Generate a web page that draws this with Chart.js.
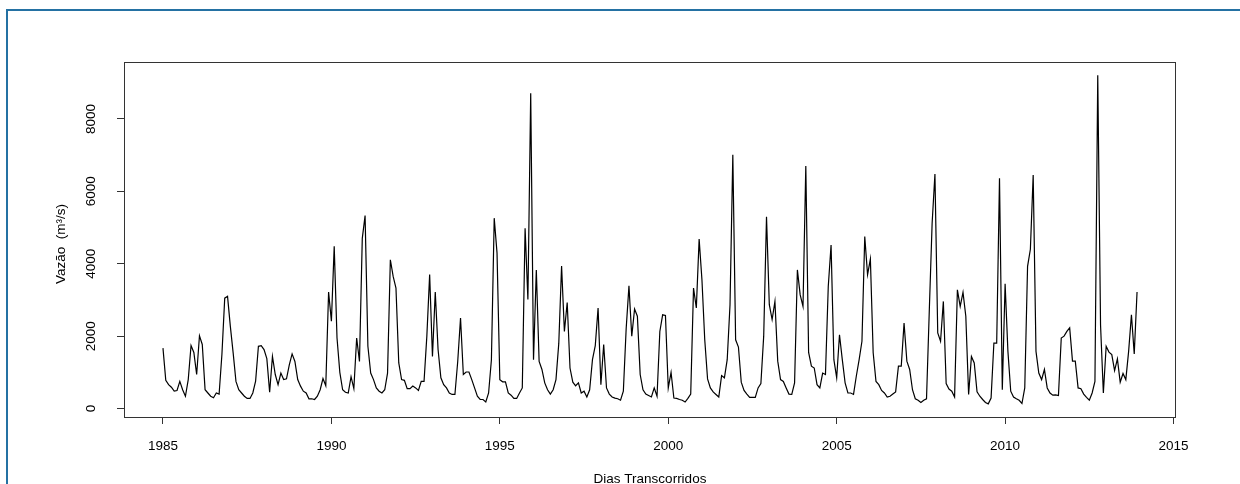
<!DOCTYPE html>
<html>
<head>
<meta charset="utf-8">
<script src="https://cdn.jsdelivr.net/npm/chart.js@4.4.1/dist/chart.umd.min.js"></script>
<style>
html, body { margin: 0; padding: 0; background: #fff; }
#wrap { position: relative; width: 1240px; height: 484px; overflow: hidden; }
#grafico { position: absolute; left: 0; top: 0; }
#moldura { position: absolute; left: 6px; top: 9px; width: 1240px; height: 480px;
  border-left: 2px solid #2471a3; border-top: 2px solid #2471a3; }
</style>
</head>
<body>
<div id="wrap">
  <canvas id="grafico" width="1240" height="484"></canvas>
  <div id="moldura"></div>
</div>
<script>
// vazão média mensal (m³/s), jan/1985 a dez/2013
var anoInicial = 1985;
var vazao = [
  1670, 780, 660, 590, 480, 500, 750, 520, 340, 800, 1740, 1550,      // 1985
  940, 2010, 1770, 520, 430, 340, 300, 430, 400, 1500, 3050, 3100,    // 1986
  2270, 1540, 750, 520, 430, 340, 280, 280, 430, 760, 1720, 1740,     // 1987
  1630, 1380, 450, 1440, 940, 660, 980, 800, 820, 1210, 1510, 1300,   // 1988
  800, 620, 480, 430, 270, 270, 250, 340, 520, 830, 630, 3220,        // 1989
  2410, 4480, 1950, 1000, 520, 450, 430, 880, 550, 1950, 1300, 4700,  // 1990
  5330, 1720, 980, 800, 570, 480, 430, 520, 980, 4110, 3650, 3330,    // 1991
  1260, 800, 780, 550, 550, 620, 570, 500, 750, 750, 2000, 3700,      // 1992
  1440, 3220, 1630, 850, 660, 570, 430, 390, 390, 1300, 2500, 940,    // 1993
  1010, 1010, 800, 570, 340, 250, 250, 180, 430, 1350, 5260, 4300,    // 1994
  800, 740, 740, 430, 370, 280, 280, 430, 570, 4980, 3010, 8710,      // 1995
  1350, 3830, 1300, 1080, 710, 520, 400, 520, 800, 1800, 3940, 2130,  // 1996
  2930, 1120, 730, 630, 710, 430, 480, 320, 520, 1350, 1740, 2780,    // 1997
  660, 1770, 570, 400, 320, 290, 270, 230, 480, 2200, 3390, 2000,     // 1998
  2750, 2550, 940, 520, 400, 360, 320, 570, 340, 2130, 2590, 2570,    // 1999
  570, 1000, 290, 280, 250, 230, 180, 280, 400, 3330, 2780, 4680,     // 2000
  3560, 1900, 820, 570, 460, 390, 320, 910, 850, 1350, 2870, 7010,    // 2001
  1900, 1700, 730, 500, 400, 310, 310, 310, 570, 690, 2000, 5300,     // 2002
  2870, 2460, 2960, 1310, 800, 750, 570, 400, 390, 710, 3830, 3140,   // 2003
  2820, 6700, 1550, 1170, 1120, 660, 570, 980, 940, 3370, 4520, 1350, // 2004
  850, 2040, 1350, 710, 430, 430, 390, 900, 1350, 1860, 4750, 3700,   // 2005
  4130, 1540, 750, 660, 500, 430, 320, 340, 400, 460, 1170, 1170,     // 2006
  2360, 1310, 1080, 520, 270, 230, 170, 230, 270, 2730, 5120, 6480,   // 2007
  2090, 1860, 2960, 690, 540, 480, 320, 3280, 2820, 3210, 2550, 390,  // 2008
  1440, 1260, 460, 340, 250, 170, 130, 290, 1810, 1810, 6360, 520,    // 2009
  3450, 1580, 480, 320, 270, 230, 140, 570, 3930, 4400, 6450, 1580,   // 2010
  980, 800, 1080, 570, 430, 370, 380, 360, 1950, 2000, 2130, 2230,    // 2011
  1310, 1310, 570, 550, 400, 310, 230, 430, 750, 9210, 2300, 430,     // 2012
  1720, 1560, 1490, 1050, 1370, 730, 970, 800, 1580, 2590, 1510, 3220 // 2013
];
var anosEixo = [1985, 1990, 1995, 2000, 2005, 2010, 2015];
var vazaoEixo = [0, 2000, 4000, 6000, 8000];

var fonte = '"Liberation Sans", Arial, sans-serif';

var pontos = vazao.map(function(v, i) {
  return { x: anoInicial + i / 12, y: v };
});

// caixa, rótulos do eixo y e títulos no estilo do R
var estiloR = {
  id: 'estiloR',
  afterDraw: function(chart) {
    var ctx = chart.ctx;
    var area = chart.chartArea;
    var eixoY = chart.scales.y;
    ctx.save();
    ctx.strokeStyle = '#333';
    ctx.lineWidth = 1;
    ctx.strokeRect(area.left + 0.5, area.top + 0.5, area.right - area.left - 1, area.bottom - area.top);

    ctx.fillStyle = '#000';
    ctx.font = '13.5px ' + fonte;
    ctx.textAlign = 'center';
    ctx.textBaseline = 'middle';
    vazaoEixo.forEach(function(v) {
      var py = eixoY.getPixelForValue(v);
      ctx.save();
      ctx.translate(91, py);
      ctx.rotate(-Math.PI / 2);
      ctx.fillText(String(v), 0, 0);
      ctx.restore();
    });

    ctx.save();
    ctx.translate(61, 244);
    ctx.rotate(-Math.PI / 2);
    ctx.fillText('Vazão  (m³/s)', 0, 0);
    ctx.restore();

    ctx.fillText('Dias Transcorridos', (area.left + area.right) / 2, 479);
    ctx.restore();
  }
};

var ctx = document.getElementById('grafico').getContext('2d');
var grafico = new Chart(ctx, {
  type: 'line',
  data: {
    datasets: [{
      label: 'Vazão',
      data: pontos,
      borderColor: '#000',
      backgroundColor: 'rgba(0,0,0,0)',
      borderWidth: 1.2,
      pointRadius: 0,
      tension: 0,
      fill: false
    }]
  },
  options: {
    responsive: false,
    animation: false,
    devicePixelRatio: 1,
    layout: { padding: { left: 0, right: 64, top: 62, bottom: 0 } },
    plugins: {
      legend: { display: false },
      tooltip: { enabled: false }
    },
    scales: {
      x: {
        type: 'linear',
        min: 1983.843,
        max: 2015.073,
        afterBuildTicks: function(s) { s.ticks = anosEixo.map(function(v) { return { value: v }; }); },
        afterFit: function(s) { s.height = 67; },
        border: { display: false },
        grid: { drawOnChartArea: false, drawTicks: true, tickLength: 7, color: '#333', lineWidth: 1 },
        ticks: {
          color: '#000',
          font: { family: fonte, size: 13.5 },
          padding: 14,
          maxRotation: 0,
          autoSkip: false,
          callback: function(v) { return String(v); }
        }
      },
      y: {
        type: 'linear',
        min: -233,
        max: 9573,
        afterBuildTicks: function(s) { s.ticks = vazaoEixo.map(function(v) { return { value: v }; }); },
        afterFit: function(s) { s.width = 124; },
        border: { display: false },
        grid: { drawOnChartArea: false, drawTicks: true, tickLength: 7, color: '#333', lineWidth: 1 },
        ticks: { display: false }
      }
    }
  },
  plugins: [estiloR]
});
</script>
</body>
</html>
